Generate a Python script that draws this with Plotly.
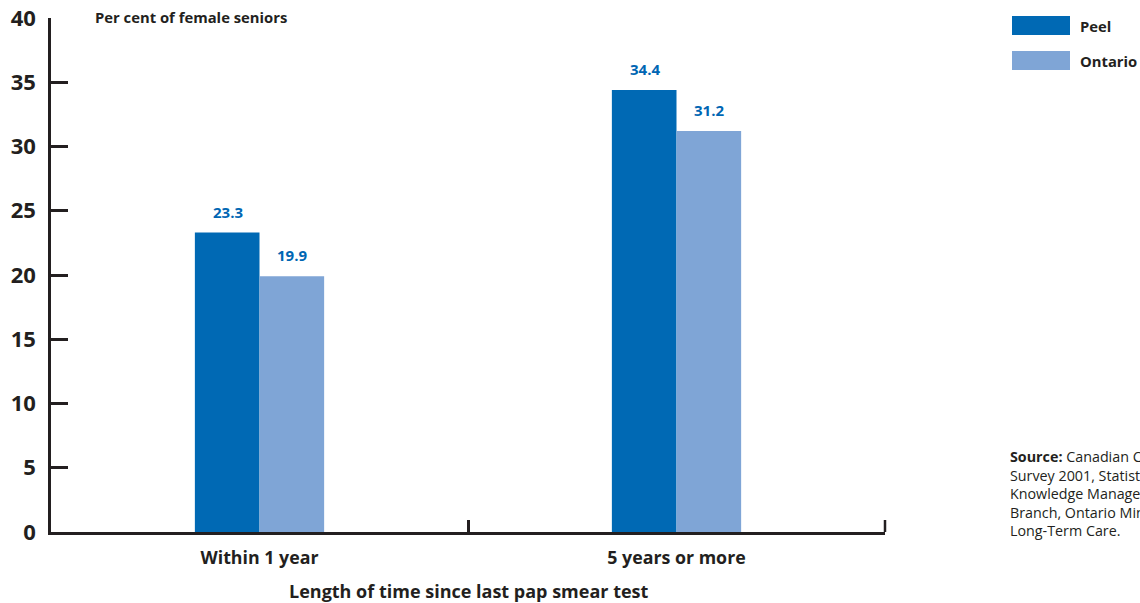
import plotly.graph_objects as go

categories = ["Within 1 year", "5 years or more"]
peel = [23.3, 34.4]
ontario = [19.9, 31.2]
y_ticks = [0, 5, 10, 15, 20, 25, 30, 35, 40]

DARK = "#231f20"
PEEL_BLUE = "#0069b4"
ONT_BLUE = "#7fa5d6"
FONT = "Open Sans"

W, H = 1140, 603
L, R, T, B = 51, 255, 18, 71
pw, ph = W - L - R, H - T - B


def px_x(x):
    return (x - L) / pw


def px_y(y):
    return 1 - (y - T) / ph


fig = go.Figure()
fig.add_trace(go.Bar(name="Peel", x=categories, y=peel, marker_color=PEEL_BLUE,
                     marker_line_width=0))
fig.add_trace(go.Bar(name="Ontario", x=categories, y=ontario, marker_color=ONT_BLUE,
                     marker_line_width=0))

# value labels above each bar
for vals, shift in ((peel, -32), (ontario, 32)):
    for cat, v in zip(categories, vals):
        fig.add_annotation(x=cat, y=v, text=f"<b>{v}</b>", showarrow=False,
                           xref="x", yref="y", yanchor="bottom", xshift=shift, yshift=9,
                           font=dict(family=FONT, size=15, color="#0066b3"))

# axis caption
fig.add_annotation(x=px_x(93), y=px_y(17), xref="paper", yref="paper", xanchor="left",
                   yanchor="middle", text="<b>Per cent of female seniors</b>",
                   showarrow=False, font=dict(family=FONT, size=14.8, color=DARK))

# legend swatches
for name, color, top in (("Peel", PEEL_BLUE, 16), ("Ontario", ONT_BLUE, 51)):
    fig.add_shape(type="rect", xref="paper", yref="paper",
                  x0=px_x(1012), x1=px_x(1070), y0=px_y(top + 19), y1=px_y(top),
                  fillcolor=color, line_width=0)
    fig.add_annotation(x=px_x(1078), y=px_y(top + 10), xref="paper", yref="paper",
                       xanchor="left", yanchor="middle", text=f"<b>{name}</b>",
                       showarrow=False, font=dict(family=FONT, size=14.8, color=DARK))

# source note
fig.add_annotation(x=px_x(1008), y=px_y(445), xref="paper", yref="paper",
                   xanchor="left", yanchor="top", align="left", showarrow=False,
                   text="<b>Source:</b> Canadian Community Health<br>"
                        "Survey 2001, Statistics Canada;<br>"
                        "Knowledge Management and Reporting<br>"
                        "Branch, Ontario Ministry of Health and<br>"
                        "Long-Term Care.",
                   font=dict(family=FONT, size=14.3, color=DARK))

# x axis title
fig.add_annotation(x=px_x(469), y=px_y(591), xref="paper", yref="paper",
                   xanchor="center", yanchor="middle", showarrow=False,
                   text="<b>Length of time since last pap smear test</b>",
                   font=dict(family=FONT, size=18, color=DARK))

# closing tick at the right end of the category axis
fig.add_shape(type="line", xref="paper", yref="paper", x0=1, x1=1,
              y0=0, y1=12 / ph, line=dict(color=DARK, width=2.5))

fig.update_layout(
    width=W, height=H,
    margin=dict(l=L, r=R, t=T, b=B, autoexpand=False),
    paper_bgcolor="white", plot_bgcolor="white",
    barmode="group", bargap=0.69, bargroupgap=0,
    showlegend=False,
    xaxis=dict(type="category", tickson="boundaries", ticks="inside", ticklen=12,
               tickwidth=2.5, tickcolor=DARK, showline=True, linecolor=DARK,
               linewidth=2.5, showgrid=False, zeroline=False, automargin=False,
               tickvals=categories, ticktext=[f"<b>{c}</b>" for c in categories],
               tickfont=dict(family=FONT, size=17.8, color=DARK),
               ticklabelstandoff=8),
    yaxis=dict(range=[0, 40], tickvals=y_ticks, ticktext=[f"<b>{t}</b>" for t in y_ticks],
               ticks="inside", ticklen=17, tickwidth=2.5, tickcolor=DARK,
               showline=True, linecolor=DARK, linewidth=2.5, showgrid=False,
               zeroline=False, automargin=False,
               tickfont=dict(family=FONT, size=22, color=DARK),
               ticklabelstandoff=8),
)

fig.write_html("out.html")
